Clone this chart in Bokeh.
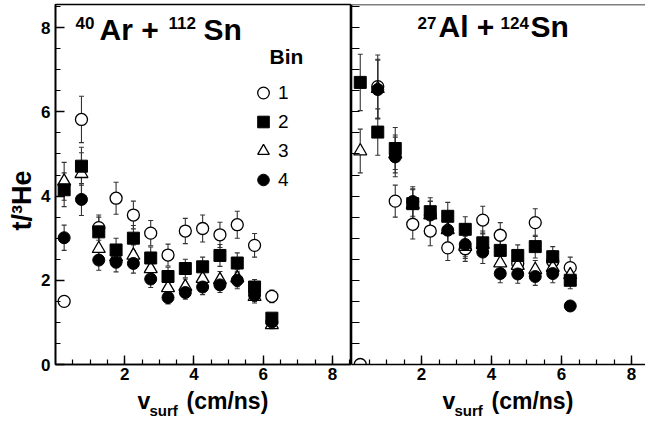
import math
from bokeh.plotting import figure
from bokeh.models import (ColumnDataSource, Whisker, TeeHead, FixedTicker, Legend,
                          LegendItem, Label, Span, Range1d)
from bokeh.layouts import row, column
from bokeh.embed import file_html
from bokeh.resources import INLINE

# ---------------- data ----------------
v_surf = [0.25, 0.75, 1.25, 1.75, 2.25, 2.75, 3.25, 3.75, 4.25, 4.75, 5.25, 5.75, 6.25]

# 40Ar + 112Sn
ar_bin1 = [1.50, 5.82, 3.25, 3.95, 3.55, 3.12, 2.60, 3.17, 3.23, 3.08, 3.32, 2.83, 1.62]
ar_bin1_err = [0.12, 0.55, 0.30, 0.38, 0.33, 0.30, 0.26, 0.30, 0.32, 0.30, 0.32, 0.28, 0.15]
ar_bin2 = [4.15, 4.71, 3.15, 2.72, 3.00, 2.53, 2.09, 2.28, 2.32, 2.59, 2.41, 1.84, 1.10]
ar_bin2_err = [0.40, 0.45, 0.35, 0.28, 0.30, 0.26, 0.22, 0.22, 0.23, 0.26, 0.24, 0.18, 0.10]
ar_bin3 = [4.35, 4.53, 2.75, 2.55, 2.59, 2.27, 1.82, 1.85, 2.04, 2.01, 2.05, 1.61, 0.94]
ar_bin3_err = [0.45, 0.50, 0.28, 0.25, 0.25, 0.22, 0.18, 0.18, 0.20, 0.20, 0.20, 0.15, 0.09]
ar_bin4 = [3.01, 3.92, 2.48, 2.43, 2.40, 2.03, 1.59, 1.71, 1.84, 1.89, 2.00, 1.65, 1.01]
ar_bin4_err = [0.30, 0.38, 0.24, 0.23, 0.23, 0.20, 0.15, 0.16, 0.18, 0.18, 0.20, 0.15, 0.10]

# 27Al + 124Sn
al_bin1 = [0.00, 6.60, 3.88, 3.33, 3.17, 2.77, 2.75, 3.43, 3.07, 2.40, 3.37, 2.45, 2.30]
al_bin1_err = [0.00, 0.75, 0.38, 0.35, 0.35, 0.30, 0.30, 0.33, 0.30, 0.25, 0.33, 0.25, 0.25]
al_bin2 = [6.70, 5.52, 5.13, 3.82, 3.63, 3.52, 3.21, 2.89, 2.71, 2.59, 2.80, 2.56, 2.00]
al_bin2_err = [0.67, 0.55, 0.50, 0.35, 0.33, 0.33, 0.30, 0.28, 0.26, 0.25, 0.27, 0.24, 0.20]
al_bin3 = [5.07, 6.55, 5.00, 3.80, 3.55, 3.20, 2.80, 2.85, 2.41, 2.35, 2.25, 2.30, 2.13]
al_bin3_err = [0.52, 0.70, 0.45, 0.35, 0.32, 0.30, 0.28, 0.27, 0.25, 0.24, 0.22, 0.22, 0.20]
al_bin4 = [None, 6.53, 4.93, 3.87, 3.55, 3.19, 2.85, 2.67, 2.16, 2.15, 2.09, 2.16, 1.39]
al_bin4_err = [None, 0.70, 0.47, 0.35, 0.33, 0.30, 0.28, 0.27, 0.22, 0.22, 0.21, 0.22, 0.00]

bin_labels = ["1", "2", "3", "4"]
x_major = [2, 4, 6, 8]
x_minor = [0.5 * i for i in range(1, 18)]
y_major = [0, 2, 4, 6, 8]
y_minor = [0.5 * i for i in range(0, 18)]
Y_END = 8.55

FONT = "Liberation Sans"
ERR_COLOR = "#333333"


def make_source(x, y, e):
    xs, ys, lo, hi = [], [], [], []
    for xi, yi, ei in zip(x, y, e):
        if yi is None:
            continue
        xs.append(xi); ys.append(yi); lo.append(yi - ei); hi.append(yi + ei)
    return ColumnDataSource(dict(x=xs, y=ys, lower=lo, upper=hi))


def style_axes(p, show_ylabels):
    p.xgrid.visible = False
    p.ygrid.visible = False
    p.background_fill_color = "white"
    p.border_fill_color = "white"
    p.xaxis.ticker = FixedTicker(ticks=x_major, minor_ticks=x_minor)
    if show_ylabels:
        p.yaxis.ticker = FixedTicker(ticks=y_major, minor_ticks=y_minor)
    else:
        p.yaxis.ticker = FixedTicker(ticks=[], minor_ticks=y_minor)
    for ax in (p.xaxis, p.yaxis):
        ax.axis_line_width = 1.6
        ax.axis_line_color = "black"
        ax.major_tick_in = 9
        ax.major_tick_out = 0
        ax.minor_tick_in = 5
        ax.minor_tick_out = 0
        ax.major_tick_line_width = 1.4
        ax.minor_tick_line_width = 1.2
        ax.major_label_text_font = FONT
        ax.major_label_text_font_style = "bold"
        ax.major_label_text_font_size = "17px"
        ax.major_label_text_color = "black"
    p.xaxis.major_label_standoff = 3
    p.yaxis.major_label_standoff = 5
    if not show_ylabels:
        p.yaxis.minor_tick_in = 8
        p.yaxis.major_label_standoff = 0


def draw_panel(p, series):
    srcs = [make_source(v_surf, y, e) for y, e in series]
    for s in srcs:
        w = Whisker(base="x", lower="lower", upper="upper", source=s,
                    line_color=ERR_COLOR, line_width=1.1,
                    upper_head=TeeHead(size=5, line_color=ERR_COLOR, line_width=1.1),
                    lower_head=TeeHead(size=5, line_color=ERR_COLOR, line_width=1.1))
        p.add_layout(w)
    r1 = p.scatter("x", "y", source=srcs[0], marker="circle", size=12,
                   fill_color="white", line_color="black", line_width=1.3)
    r3 = p.scatter("x", "y", source=srcs[2], marker="triangle", size=13,
                   fill_color="white", line_color="black", line_width=1.3)
    r2 = p.scatter("x", "y", source=srcs[1], marker="square", size=12,
                   fill_color="black", line_color="black")
    r4 = p.scatter("x", "y", source=srcs[3], marker="circle", size=12,
                   fill_color="black", line_color="black")
    return [r1, r2, r3, r4]


def text(p, txt, x, y, size, bold=True, **kw):
    p.add_layout(Label(text=txt, x=x, y=y, x_units="screen", y_units="screen",
                       text_font=FONT, text_font_size=size,
                       text_font_style="bold" if bold else "normal",
                       text_color="black", **kw))


def strip(w, h):
    s = figure(width=w, height=h, x_range=Range1d(0, 1), y_range=Range1d(0, 1),
               output_backend="svg", toolbar_location=None, min_border=0,
               x_axis_location=None, y_axis_location=None)
    s.outline_line_color = None
    s.grid.visible = False
    s.background_fill_color = "white"
    s.border_fill_color = "white"
    return s


H_MAIN = 386
W_YSTRIP = 38

# ---------------- left panel ----------------
p1 = figure(width=351 - W_YSTRIP, height=H_MAIN, x_range=Range1d(0, 8.55),
            y_range=Range1d(0, Y_END), output_backend="svg", toolbar_location=None,
            min_border_left=55 - W_YSTRIP, min_border_right=0, min_border_top=4,
            min_border_bottom=22)
style_axes(p1, True)
p1.outline_line_color = "black"
p1.outline_line_width = 1.6
rs1 = draw_panel(p1, [(ar_bin1, ar_bin1_err), (ar_bin2, ar_bin2_err),
                      (ar_bin3, ar_bin3_err), (ar_bin4, ar_bin4_err)])

legend = Legend(items=[LegendItem(label=lab, renderers=[r]) for lab, r in zip(bin_labels, rs1)],
                location=(193, 170), glyph_width=30, glyph_height=29, label_standoff=0,
                spacing=0, padding=0, margin=0, border_line_color=None,
                background_fill_alpha=0, label_text_font=FONT, label_text_font_size="19px",
                label_text_color="black")
p1.add_layout(legend)
text(p1, "Bin", 214, 297, "21px")

# title pieces: 40Ar + 112Sn
text(p1, "40", 20, 336, "17px")
text(p1, "Ar + ", 44, 319, "30px")
text(p1, "112", 113, 336, "17px")
text(p1, "Sn", 148, 319, "30px")

# ---------------- right panel ----------------
p2 = figure(width=294, height=H_MAIN, x_range=Range1d(0, 8.4), y_range=Range1d(0, Y_END),
            output_backend="svg", toolbar_location=None,
            min_border_left=0, min_border_right=0, min_border_top=4, min_border_bottom=22)
style_axes(p2, False)
p2.outline_line_color = None
p2.add_layout(Span(location=Y_END, dimension="width", line_color="black", line_width=1.6))
draw_panel(p2, [(al_bin1, al_bin1_err), (al_bin2, al_bin2_err),
                (al_bin3, al_bin3_err), (al_bin4, al_bin4_err)])

text(p2, "27", 66, 336, "17px")
text(p2, "Al + ", 87, 322, "30px")
text(p2, "124", 149, 336, "17px")
text(p2, "Sn", 179, 322, "30px")

# ---------------- axis titles (strips) ----------------
ystrip = strip(W_YSTRIP, H_MAIN)
text(ystrip, "t/³He", 21, H_MAIN - 222, "27px", angle=math.pi / 2, text_align="center",
     text_baseline="middle")

bstrip = strip(645, 421 - H_MAIN)
text(bstrip, "v", 137, 8, "23px")
text(bstrip, "surf", 149, 3, "15px")
text(bstrip, "(cm/ns)", 186, 8, "23px")
text(bstrip, "v", 442, 8, "23px")
text(bstrip, "surf", 454, 3, "15px")
text(bstrip, "(cm/ns)", 491, 8, "23px")

layout = column(row(ystrip, p1, p2), bstrip)
open("out.html", "w").write(file_html(layout, INLINE))
